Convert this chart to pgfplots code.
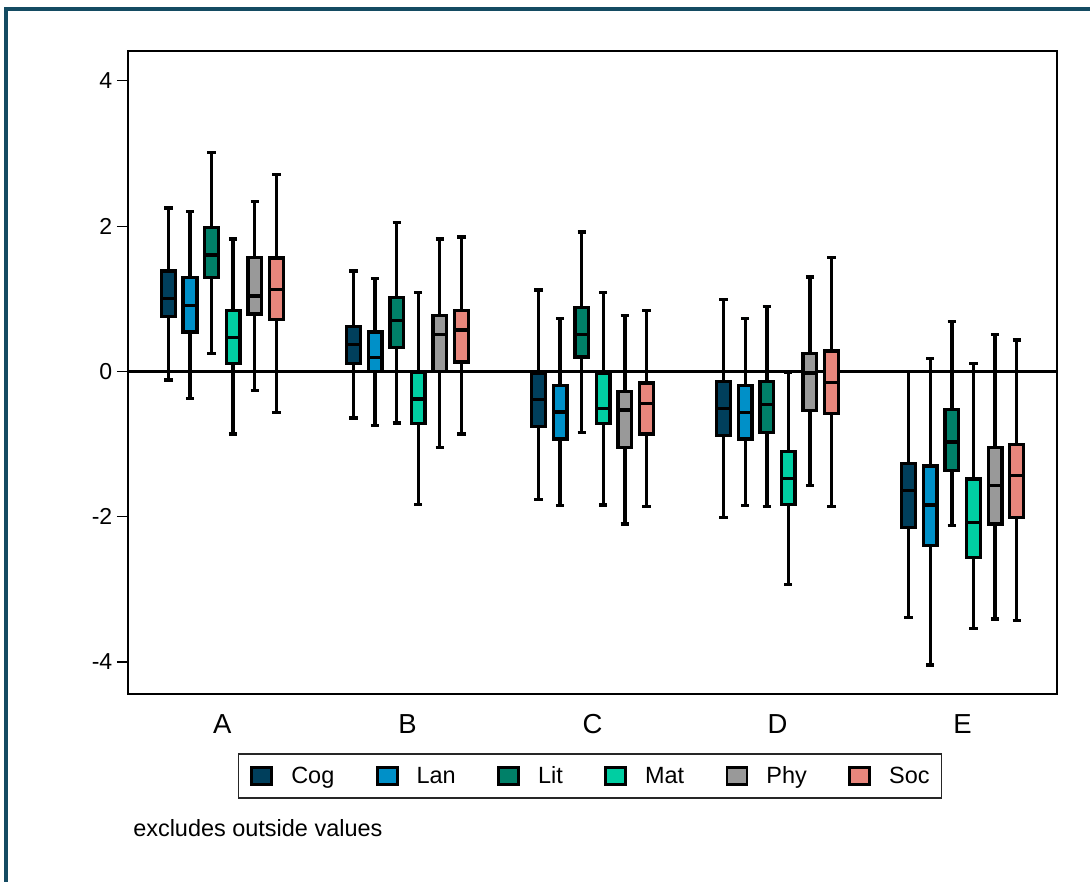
\documentclass[border=0pt]{standalone}
\usepackage{fontspec}
\setmainfont{Liberation Sans}
\usepackage{pgfplots}
\pgfplotsset{compat=1.18}
\usepgfplotslibrary{statistics}

\definecolor{cogc}{RGB}{0,63,92}
\definecolor{lanc}{RGB}{0,144,200}
\definecolor{litc}{RGB}{0,128,104}
\definecolor{matc}{RGB}{0,206,162}
\definecolor{phyc}{RGB}{153,153,153}
\definecolor{socc}{RGB}{232,134,124}
\definecolor{framec}{RGB}{20,75,98}

\pgfplotsset{
  bxstyle/.style={draw=black, line width=2.5pt, forget plot,
    boxplot/draw direction=y,
    boxplot/box extend=0.074, boxplot/whisker extend=0.045},
}

\begin{document}
\begin{tikzpicture}[x=0.75pt,y=0.75pt]
\useasboundingbox (0,0) rectangle (1090,882);
\fill[white] (0,0) rectangle (1090,882);
\begin{axis}[
  at={(96pt,141pt)}, anchor=south west,
  width=696.75pt, height=482.25pt, scale only axis,
  xmin=0.49, xmax=5.51, ymin=-4.44, ymax=4.41,
  axis line style={line width=0.9pt, black},
  xtick={1,2,3,4,5}, xticklabels={A,B,C,D,E},
  xtick style={draw=none},
  xticklabel style={font=\fontsize{20.6}{24}\selectfont, anchor=center, yshift=-14pt},
  ytick={-4,-2,0,2,4}, yticklabels={-4,-2,0,2,4},
  ytick pos=left, xtick pos=bottom,
  tick align=outside, major tick length=8.25pt,
  ytick style={line width=0.8pt, black},
  yticklabel style={font=\fontsize{17.3}{19}\selectfont},
  legend columns=6,
  legend image code/.code={\draw[#1, line width=2.2pt] (0pt,-6.5pt) rectangle (15pt,6.5pt);},
  legend style={at={(0.4973,-0.1275)}, anchor=center,
    draw=black!85, line width=1.1pt, inner xsep=9pt, inner ysep=9pt,
    font=\fontsize{17.6}{20}\selectfont, nodes={inner sep=0pt},
    /tikz/every odd column/.append style={column sep=13.5pt},
    /tikz/every even column/.append style={column sep=31pt}},
]
\addplot[black, line width=1.7pt, forget plot] coordinates {(0.49,0) (5.51,0)};

% ---- A ----
\addplot[bxstyle, fill=cogc, boxplot prepared={draw position=0.708, lower whisker=-0.12, lower quartile=0.76, median=1.00, upper quartile=1.38, upper whisker=2.25}] coordinates {};
\addplot[bxstyle, fill=lanc, boxplot prepared={draw position=0.825, lower whisker=-0.37, lower quartile=0.54, median=0.91, upper quartile=1.29, upper whisker=2.20}] coordinates {};
\addplot[bxstyle, fill=litc, boxplot prepared={draw position=0.942, lower whisker=0.25, lower quartile=1.29, median=1.60, upper quartile=1.98, upper whisker=3.01}] coordinates {};
\addplot[bxstyle, fill=matc, boxplot prepared={draw position=1.058, lower whisker=-0.86, lower quartile=0.11, median=0.47, upper quartile=0.84, upper whisker=1.82}] coordinates {};
\addplot[bxstyle, fill=phyc, boxplot prepared={draw position=1.175, lower whisker=-0.26, lower quartile=0.79, median=1.04, upper quartile=1.57, upper whisker=2.34}] coordinates {};
\addplot[bxstyle, fill=socc, boxplot prepared={draw position=1.292, lower whisker=-0.57, lower quartile=0.71, median=1.13, upper quartile=1.56, upper whisker=2.71}] coordinates {};
% ---- B ----
\addplot[bxstyle, fill=cogc, boxplot prepared={draw position=1.708, lower whisker=-0.64, lower quartile=0.11, median=0.37, upper quartile=0.62, upper whisker=1.38}] coordinates {};
\addplot[bxstyle, fill=lanc, boxplot prepared={draw position=1.825, lower whisker=-0.74, lower quartile=0.00, median=0.19, upper quartile=0.54, upper whisker=1.28}] coordinates {};
\addplot[bxstyle, fill=litc, boxplot prepared={draw position=1.942, lower whisker=-0.71, lower quartile=0.33, median=0.70, upper quartile=1.02, upper whisker=2.05}] coordinates {};
\addplot[bxstyle, fill=matc, boxplot prepared={draw position=2.058, lower whisker=-1.83, lower quartile=-0.72, median=-0.38, upper quartile=-0.01, upper whisker=1.09}] coordinates {};
\addplot[bxstyle, fill=phyc, boxplot prepared={draw position=2.175, lower whisker=-1.05, lower quartile=0.00, median=0.51, upper quartile=0.77, upper whisker=1.82}] coordinates {};
\addplot[bxstyle, fill=socc, boxplot prepared={draw position=2.292, lower whisker=-0.86, lower quartile=0.13, median=0.57, upper quartile=0.84, upper whisker=1.85}] coordinates {};
% ---- C ----
\addplot[bxstyle, fill=cogc, boxplot prepared={draw position=2.708, lower whisker=-1.76, lower quartile=-0.76, median=-0.39, upper quartile=-0.02, upper whisker=1.12}] coordinates {};
\addplot[bxstyle, fill=lanc, boxplot prepared={draw position=2.825, lower whisker=-1.85, lower quartile=-0.93, median=-0.56, upper quartile=-0.19, upper whisker=0.73}] coordinates {};
\addplot[bxstyle, fill=litc, boxplot prepared={draw position=2.942, lower whisker=-0.84, lower quartile=0.20, median=0.51, upper quartile=0.88, upper whisker=1.92}] coordinates {};
\addplot[bxstyle, fill=matc, boxplot prepared={draw position=3.058, lower whisker=-1.84, lower quartile=-0.72, median=-0.51, upper quartile=-0.02, upper whisker=1.09}] coordinates {};
\addplot[bxstyle, fill=phyc, boxplot prepared={draw position=3.175, lower whisker=-2.10, lower quartile=-1.05, median=-0.53, upper quartile=-0.28, upper whisker=0.77}] coordinates {};
\addplot[bxstyle, fill=socc, boxplot prepared={draw position=3.292, lower whisker=-1.86, lower quartile=-0.86, median=-0.44, upper quartile=-0.16, upper whisker=0.84}] coordinates {};
% ---- D ----
\addplot[bxstyle, fill=cogc, boxplot prepared={draw position=3.708, lower whisker=-2.01, lower quartile=-0.88, median=-0.51, upper quartile=-0.14, upper whisker=0.99}] coordinates {};
\addplot[bxstyle, fill=lanc, boxplot prepared={draw position=3.825, lower whisker=-1.85, lower quartile=-0.93, median=-0.57, upper quartile=-0.19, upper whisker=0.73}] coordinates {};
\addplot[bxstyle, fill=litc, boxplot prepared={draw position=3.942, lower whisker=-1.86, lower quartile=-0.84, median=-0.46, upper quartile=-0.14, upper whisker=0.89}] coordinates {};
\addplot[bxstyle, fill=matc, boxplot prepared={draw position=4.058, lower whisker=-2.93, lower quartile=-1.83, median=-1.47, upper quartile=-1.10, upper whisker=-0.01}] coordinates {};
\addplot[bxstyle, fill=phyc, boxplot prepared={draw position=4.175, lower whisker=-1.57, lower quartile=-0.54, median=-0.02, upper quartile=0.25, upper whisker=1.30}] coordinates {};
\addplot[bxstyle, fill=socc, boxplot prepared={draw position=4.292, lower whisker=-1.86, lower quartile=-0.58, median=-0.15, upper quartile=0.28, upper whisker=1.57}] coordinates {};
% ---- E ----
\addplot[bxstyle, fill=cogc, boxplot prepared={draw position=4.708, lower whisker=-3.39, lower quartile=-2.15, median=-1.64, upper quartile=-1.27, upper whisker=0.00}] coordinates {};
\addplot[bxstyle, fill=lanc, boxplot prepared={draw position=4.825, lower whisker=-4.04, lower quartile=-2.40, median=-1.84, upper quartile=-1.30, upper whisker=0.18}] coordinates {};
\addplot[bxstyle, fill=litc, boxplot prepared={draw position=4.942, lower whisker=-2.12, lower quartile=-1.36, median=-0.97, upper quartile=-0.52, upper whisker=0.69}] coordinates {};
\addplot[bxstyle, fill=matc, boxplot prepared={draw position=5.058, lower whisker=-3.54, lower quartile=-2.56, median=-2.08, upper quartile=-1.48, upper whisker=0.11}] coordinates {};
\addplot[bxstyle, fill=phyc, boxplot prepared={draw position=5.175, lower whisker=-3.41, lower quartile=-2.10, median=-1.57, upper quartile=-1.05, upper whisker=0.51}] coordinates {};
\addplot[bxstyle, fill=socc, boxplot prepared={draw position=5.292, lower whisker=-3.43, lower quartile=-2.01, median=-1.43, upper quartile=-1.01, upper whisker=0.43}] coordinates {};

\addlegendimage{draw=black, fill=cogc}\addlegendentry{Cog}
\addlegendimage{draw=black, fill=lanc}\addlegendentry{Lan}
\addlegendimage{draw=black, fill=litc}\addlegendentry{Lit}
\addlegendimage{draw=black, fill=matc}\addlegendentry{Mat}
\addlegendimage{draw=black, fill=phyc}\addlegendentry{Phy}
\addlegendimage{draw=black, fill=socc}\addlegendentry{Soc}
\end{axis}
\node[anchor=base west, inner sep=0pt, font=\fontsize{17.6}{20}\selectfont] at (133,45) {excludes outside values};
\draw[framec, line width=2.3pt] (6,-20) -- (6,873) -- (1110,873);
\end{tikzpicture}
\end{document}
